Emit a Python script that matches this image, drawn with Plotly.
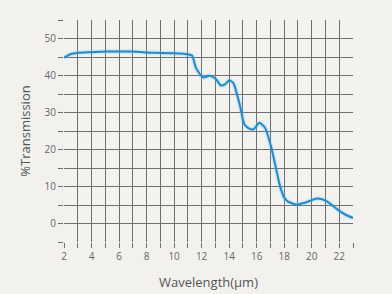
import plotly.graph_objects as go

wavelength = [2.0, 2.5, 3.0, 4.0, 5.0, 6.0, 7.0, 8.0, 9.0, 10.0, 11.0, 11.3,
              11.6, 12.1, 12.6, 13.0, 13.4, 13.7, 14.0, 14.3, 14.6, 14.8, 15.1,
              15.4, 15.75, 16.2, 16.6, 16.8, 17.1, 17.4, 17.7, 18.0, 18.25,
              18.9, 19.5, 20.3, 20.8, 21.1, 21.6, 22.0, 22.5, 23.0]
transmission = [44.8, 45.8, 46.1, 46.3, 46.5, 46.5, 46.5, 46.2, 46.1, 46.0, 45.7, 45.4,
                42.0, 39.5, 39.9, 39.2, 37.3, 37.6, 38.7, 38.0, 34.5, 31.7, 26.8,
                25.8, 25.4, 27.2, 25.9, 24.0, 20.0, 15.0, 10.1, 7.0, 6.0,
                5.1, 5.6, 6.7, 6.5, 6.0, 4.6, 3.4, 2.3, 1.5]

x_tickvals = list(range(2, 24))
x_ticktext = [str(v) if v % 2 == 0 else "" for v in x_tickvals]
y_tickvals = list(range(-5, 56, 5))
y_ticktext = [str(v) if v % 10 == 0 and 0 <= v <= 50 else "" for v in y_tickvals]

fig = go.Figure()
fig.add_trace(go.Scatter(x=wavelength, y=transmission, mode="lines",
                         line=dict(color="rgba(120,200,240,0.25)", width=5, shape="spline", smoothing=0.6),
                         hoverinfo="skip", showlegend=False))
fig.add_trace(go.Scatter(x=wavelength, y=transmission, mode="lines",
                         line=dict(color="#1b8ad3", width=2, shape="spline", smoothing=0.6),
                         showlegend=False))

axis_common = dict(showgrid=True, gridcolor="#6e6e6e", gridwidth=1, zeroline=False,
                   ticks="outside", ticklen=5, tickcolor="#6e6e6e", tickwidth=1,
                   tickfont=dict(family="Open Sans", size=10, color="#666666"),
                   showline=False, automargin=False)
fig.update_xaxes(range=[2, 23], tickvals=x_tickvals, ticktext=x_ticktext,
                 title=dict(text="Wavelength(μm)", font=dict(family="Open Sans", size=13, color="#555555"), standoff=15),
                 **axis_common)
fig.update_yaxes(range=[-5, 55], tickvals=y_tickvals, ticktext=y_ticktext,
                 title=dict(text="%Transmission", font=dict(family="Open Sans", size=13, color="#555555"), standoff=11),
                 **axis_common)
fig.update_layout(width=392, height=294, margin=dict(l=64, r=39, t=20, b=52),
                  paper_bgcolor="#f3f1ee", plot_bgcolor="#f3f2ef")
fig.write_html("out.html")
